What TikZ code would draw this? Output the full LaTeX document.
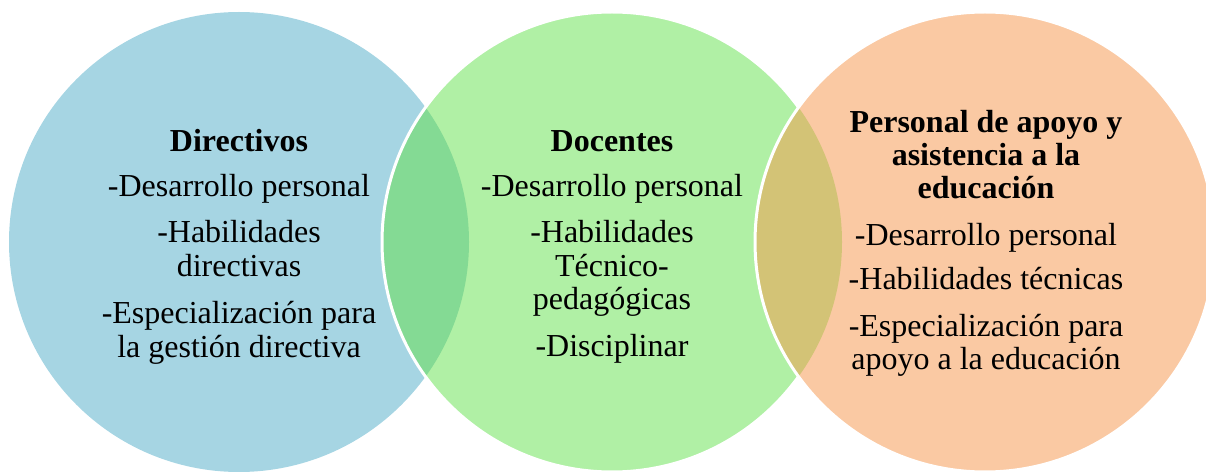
\documentclass[tikz,border=0pt]{standalone}
\usepackage{fontspec}
\setmainfont{Liberation Serif}
\definecolor{cblue}{HTML}{A6D5E3}
\definecolor{cgreen}{HTML}{B0F0A5}
\definecolor{cgb}{HTML}{84DA94}
\definecolor{corange}{HTML}{FAC9A3}
\definecolor{cgo}{HTML}{D3C376}
\begin{document}
\begin{tikzpicture}[x=1pt,y=1pt,
  ring/.style={draw=white,line width=3pt},
  ln/.style={anchor=base,inner sep=0pt,font=\fontsize{32}{34}\selectfont},
  hd/.style={ln,font=\fontsize{32}{34}\selectfont\bfseries}]
\useasboundingbox (0,0) rectangle (1206,471);
\clip (0,0) rectangle (1206,471);
\coordinate (c1) at (239,229);
\coordinate (c2) at (612,229);
\coordinate (c3) at (985,229);
\def\R{230}
% circle 1
\fill[cblue] (c1) circle (\R);
% circle 2
\fill[cgreen] (c2) circle (\R);
\begin{scope}
  \clip (c1) circle (\R);
  \fill[cgb] (c2) circle (\R);
\end{scope}
\draw[ring] (c2) circle (\R);
% circle 3
\fill[corange] (c3) circle (\R);
\begin{scope}
  \clip (c2) circle (\R);
  \fill[cgo] (c3) circle (\R);
\end{scope}
\draw[ring] (c3) circle (\R);
% texts circle 1
\node[hd] (a1) at (239,319) {Directivos};
\node[ln] (a2) at (239,274) {-Desarrollo personal};
\node[ln] (a3) at (239,228) {-Habilidades};
\node[ln] (a4) at (239,194) {directivas};
\node[ln] (a5) at (239,147) {-Especialización para};
\node[ln] (a6) at (239,113) {la gestión directiva};
% texts circle 2
\node[hd] (b1) at (612,319) {Docentes};
\node[ln] (b2) at (612,274) {-Desarrollo personal};
\node[ln] (b3) at (612,228) {-Habilidades};
\node[ln] (b4) at (612,194) {Técnico-};
\node[ln] (b5) at (612,161) {pedagógicas};
\node[ln] (b6) at (612,114) {-Disciplinar};
% texts circle 3
\node[hd] (e1) at (986,338) {Personal de apoyo y};
\node[hd] (e2) at (986,305) {asistencia a la};
\node[hd] (e3) at (986,272) {educación};
\node[ln] (e4) at (986,225) {-Desarrollo personal};
\node[ln] (e5) at (986,181) {-Habilidades técnicas};
\node[ln] (e6) at (986,134) {-Especialización para};
\node[ln] (e7) at (986,101) {apoyo a la educación};
\end{tikzpicture}
\end{document}
